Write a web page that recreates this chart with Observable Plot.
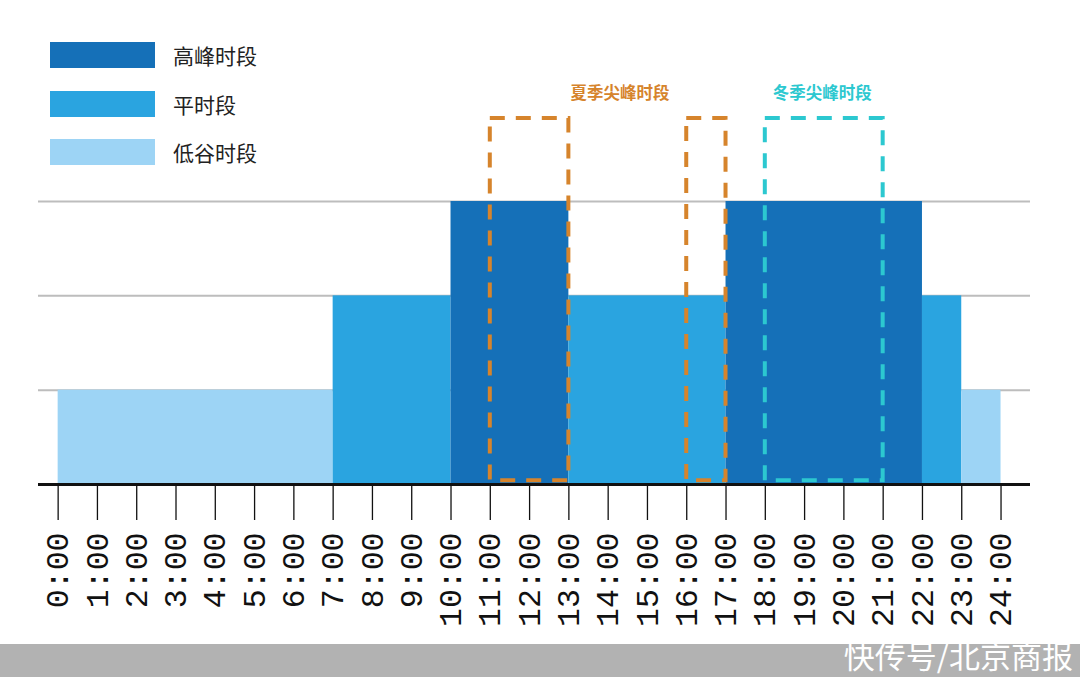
<!DOCTYPE html>
<html>
<head>
<meta charset="utf-8">
<script src="https://cdn.jsdelivr.net/npm/d3@7"></script>
<script src="https://cdn.jsdelivr.net/npm/@observablehq/plot@0.6"></script>
<style>
  html, body { margin: 0; padding: 0; background: #fff; }
  #wrap { position: relative; width: 1080px; height: 677px; overflow: hidden; font-family: "Noto Sans CJK SC", "Noto Sans", sans-serif; }
  #legend { position: absolute; left: 50px; top: 42px; }
  .row { display: flex; align-items: center; height: 26px; margin-bottom: 22.5px; }
  .sw { width: 105px; height: 26px; margin-right: 18px; }
  .lab { font-size: 21px; color: #222; }
  #footer { position: absolute; left: 0; top: 644px; width: 1080px; height: 33px; background: #b2b2b2; }
  #footer span.main { position: absolute; right: 7px; bottom: 0; color: #fff; font-size: 31px; line-height: normal; white-space: nowrap; }
</style>
</head>
<body>
<div id="wrap">
  <div id="chart"></div>
  <div id="legend"></div>
  <div id="footer"><span class="main">快传号/北京商报</span></div>
</div>
<script>
// ---- data ----
const periodNames = ["高峰时段", "平时段", "低谷时段"];
const periodColors = ["#1570b8", "#2aa4e0", "#9dd4f5"];
const periodLevels = [3, 2, 1];

const segStart = [0, 7, 10, 13, 17, 22, 23];
const segEnd   = [7, 10, 13, 17, 22, 23, 24];
const segPeriod = ["低谷时段", "平时段", "高峰时段", "平时段", "高峰时段", "平时段", "低谷时段"];

const summerStart = [11, 16];
const summerEnd   = [13, 17];
const winterStart = [18];
const winterEnd   = [21];
const summerLabel = "夏季尖峰时段";
const winterLabel = "冬季尖峰时段";

const hours = d3.range(0, 25);
const gridLevels = [1, 2, 3];

// ---- tables ----
const levelOf = Object.fromEntries(periodNames.map((n, i) => [n, periodLevels[i]]));
const segments = segStart.map((s, i) => ({start: s, end: segEnd[i], period: segPeriod[i], level: levelOf[segPeriod[i]]}));
const summerBoxes = summerStart.map((s, i) => ({start: s, end: summerEnd[i]}));
const winterBoxes = winterStart.map((s, i) => ({start: s, end: winterEnd[i]}));
const boxTop = 3.88, boxBottom = 0.04, labelY = 4.14;

const summerColor = "#d6842c";
const winterColor = "#2cc8d0";

const chart = Plot.plot({
  width: 1080,
  height: 644,
  marginLeft: 38,
  marginRight: 50,
  marginTop: 201,
  marginBottom: 160,
  style: {fontFamily: "Noto Sans CJK SC, sans-serif", background: "transparent"},
  x: {domain: [-0.5, 24.75], range: [38, 1030]},
  y: {domain: [0, 3], range: [484, 201], axis: null},
  color: {domain: periodNames, range: periodColors},
  marks: [
    Plot.gridY(gridLevels, {stroke: "#bdbdbd", strokeOpacity: 1, strokeWidth: 2}),
    Plot.rect(segments, {x1: "start", x2: "end", y1: 0, y2: "level", fill: "period", inset: 0}),
    Plot.ruleY([0], {stroke: "#111", strokeWidth: 3}),
    Plot.axisX(hours, {
      tickFormat: d => `${d}:00`,
      tickRotate: -90,
      tickSize: 36,
      tickPadding: 12,
      fontSize: 31.5,
      fontFamily: "Liberation Mono, DejaVu Sans Mono, monospace",
      stroke: "#111",
      strokeWidth: 1.3,
      color: "#111",
      label: null
    }),
    Plot.rect(summerBoxes, {x1: "start", x2: "end", y1: boxBottom, y2: boxTop, fill: "none", stroke: summerColor, strokeWidth: 4, strokeDasharray: "15,11"}),
    Plot.rect(winterBoxes, {x1: "start", x2: "end", y1: boxBottom, y2: boxTop, fill: "none", stroke: winterColor, strokeWidth: 4, strokeDasharray: "15,11"}),
    Plot.text([summerLabel], {x: 14.3, y: labelY, text: d => d, fill: summerColor, fontSize: 16.5, fontWeight: "bold"}),
    Plot.text([winterLabel], {x: 19.45, y: labelY, text: d => d, fill: winterColor, fontSize: 16.5, fontWeight: "bold"})
  ]
});
document.getElementById("chart").appendChild(chart);

// legend
const legend = document.getElementById("legend");
periodNames.forEach((n, i) => {
  const row = document.createElement("div");
  row.className = "row";
  row.innerHTML = `<div class="sw" style="background:${periodColors[i]}"></div><span class="lab">${n}</span>`;
  legend.appendChild(row);
});
</script>
</body>
</html>
